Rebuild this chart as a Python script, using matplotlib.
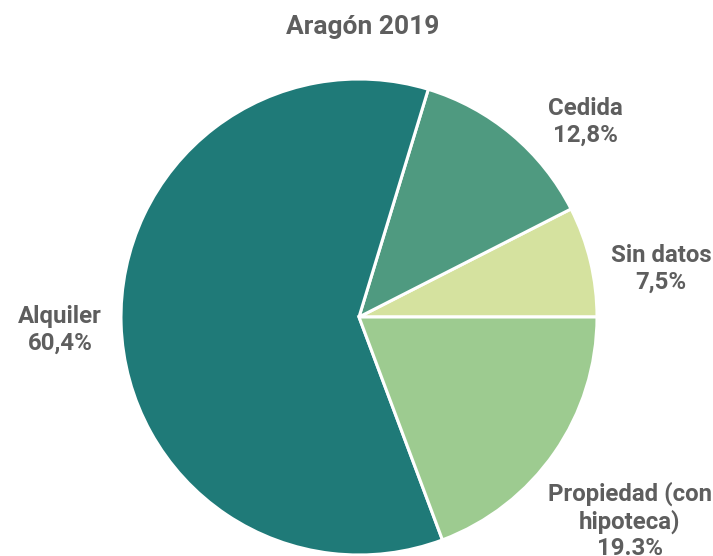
import matplotlib.pyplot as plt

# Tenure regime shares, Aragón 2019 (counterclockwise from 3 o'clock)
categories = ["Sin datos", "Cedida", "Alquiler", "Propiedad (con\nhipoteca)"]
shares = [7.5, 12.8, 60.4, 19.3]
value_labels = ["7,5%", "12,8%", "60,4%", "19.3%"]
colors = ["#d5e29f", "#4f9a80", "#1f7a78", "#9dcb90"]

# label positions in pixels (centre of text block)
label_px = [(661, 269), (585, 122), (60, 330), (630, 521)]

W, H = 713, 556
cx, cy, r = 359, 317, 238

plt.rcParams['font.family'] = ['Roboto', 'DejaVu Sans']
text_color = "#5e5e5e"

fig = plt.figure(figsize=(W / 100, H / 100), dpi=100)
ax = fig.add_axes([(cx - r) / W, (H - cy - r) / H, 2 * r / W, 2 * r / H])

ax.pie(shares, colors=colors, startangle=0, counterclock=True, radius=1,
       wedgeprops=dict(edgecolor="white", linewidth=2.2))
ax.set_xlim(-1, 1)
ax.set_ylim(-1, 1)
ax.set_aspect("equal")
ax.axis("off")

for name, val, (px, py) in zip(categories, value_labels, label_px):
    xd = (px - cx) / r
    yd = (cy - py) / r
    ax.text(xd, yd, name + "\n" + val, ha="center", va="center",
            fontsize=17.3, fontweight="bold", color=text_color,
            linespacing=1.17, clip_on=False)

fig.text(363 / W, 1 - 27 / H, "Aragón 2019", ha="center", va="center",
         fontsize=19, fontweight="bold", color=text_color)

fig.savefig("out.png", dpi=100)
